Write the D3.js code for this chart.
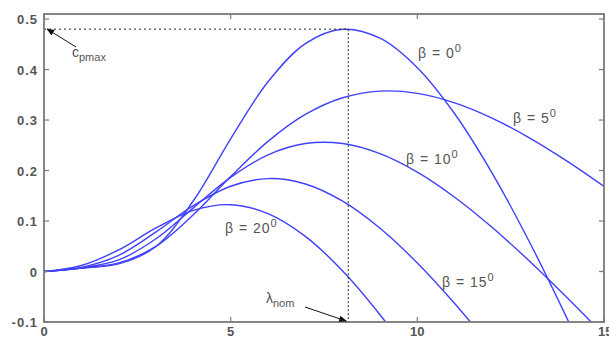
<!DOCTYPE html>
<html>
<head>
<meta charset="utf-8">
<script src="https://cdn.jsdelivr.net/npm/d3@7"></script>
<style>
  body { margin: 0; background: #fff; }
  text { font-family: "Liberation Sans", Arial, sans-serif; fill: #555; }
</style>
</head>
<body>
<svg width="609" height="338"></svg>
<script>
// tip speed ratio (x) en power coefficient per pitch hoek
var lambda = [0, 1, 2, 3, 4, 5, 6, 7, 8, 9, 10, 11, 12, 13, 14, 15];
var cpBeta0  = [0, 0.0068, 0.0151, 0.0495, 0.1401, 0.2629, 0.3757, 0.4513, 0.4797, 0.4620, 0.4037, 0.3125, 0.1954, 0.0590, -0.0913, -0.2512];
var cpBeta5  = [0, 0.0068, 0.0170, 0.0497, 0.1123, 0.1880, 0.2578, 0.3111, 0.3441, 0.3572, 0.3529, 0.3341, 0.3039, 0.2648, 0.2191, 0.1686];
var cpBeta10 = [0, 0.0070, 0.0229, 0.0648, 0.1261, 0.1864, 0.2310, 0.2534, 0.2534, 0.2334, 0.1967, 0.1470, 0.0875, 0.0208, -0.0510, -0.1259];
var cpBeta15 = [0, 0.0083, 0.0321, 0.0784, 0.1304, 0.1689, 0.1840, 0.1734, 0.1393, 0.0857, 0.0169, -0.0634, -0.1518];
var cpBeta20 = [0, 0.0119, 0.0427, 0.0862, 0.1211, 0.1323, 0.1147, 0.0696, 0.0011, -0.0856, -0.1861];
var xTicks = [0, 5, 10, 15];
var yTicks = [-0.1, 0, 0.1, 0.2, 0.3, 0.4, 0.5];
var cpMax = 0.48, lambdaNom = 8.15;

var svg = d3.select("svg"),
    pl = 44, pr = 604, pt = 14, pb = 322;

var x = d3.scaleLinear().domain([0, 15]).range([pl, pr]),
    y = d3.scaleLinear().domain([-0.1, 0.51]).range([pb, pt]);

var defs = svg.append("defs");
defs.append("clipPath").attr("id", "plot")
  .append("rect").attr("x", pl).attr("y", pt).attr("width", pr - pl).attr("height", pb - pt);

defs.append("marker").attr("id", "arrow")
    .attr("viewBox", "0 0 10 10").attr("refX", 9).attr("refY", 5)
    .attr("markerWidth", 8).attr("markerHeight", 8).attr("orient", "auto")
  .append("path").attr("d", "M0,1 L10,5 L0,9 z").attr("fill", "#111");

// curves
var series = [cpBeta0, cpBeta5, cpBeta10, cpBeta15, cpBeta20];
var line = d3.line()
    .x(function(d) { return x(d[0]); })
    .y(function(d) { return y(d[1]); })
    .curve(d3.curveCatmullRom.alpha(0.5));

svg.append("g").attr("clip-path", "url(#plot)")
  .selectAll("path")
  .data(series)
  .enter().append("path")
    .attr("d", function(s) { return line(s.map(function(v, i) { return [lambda[i], v]; })); })
    .attr("fill", "none")
    .attr("stroke", "#4040ff")
    .attr("stroke-width", 1.4);

// dotted lines naar cpmax en lambda nom
svg.append("line")
  .attr("x1", x(0)).attr("x2", x(lambdaNom))
  .attr("y1", y(cpMax)).attr("y2", y(cpMax))
  .attr("stroke", "#222").attr("stroke-width", 1).attr("stroke-dasharray", "2,3");
svg.append("line")
  .attr("x1", x(lambdaNom)).attr("x2", x(lambdaNom))
  .attr("y1", y(cpMax)).attr("y2", y(-0.1))
  .attr("stroke", "#222").attr("stroke-width", 1).attr("stroke-dasharray", "2,2");

// frame
svg.append("rect")
  .attr("x", pl).attr("y", pt).attr("width", pr - pl).attr("height", pb - pt)
  .attr("fill", "none").attr("stroke", "#7a7a7a").attr("stroke-width", 1.8);

// ticks naar binnen, alle vier kanten
var g = svg.append("g").attr("stroke", "#7a7a7a").attr("stroke-width", 1.2);
xTicks.forEach(function(t) {
  g.append("line").attr("x1", x(t)).attr("x2", x(t)).attr("y1", pb).attr("y2", pb - 5);
  g.append("line").attr("x1", x(t)).attr("x2", x(t)).attr("y1", pt).attr("y2", pt + 5);
});
yTicks.forEach(function(t) {
  g.append("line").attr("x1", pl).attr("x2", pl + 5).attr("y1", y(t)).attr("y2", y(t));
  g.append("line").attr("x1", pr).attr("x2", pr - 5).attr("y1", y(t)).attr("y2", y(t));
});

svg.selectAll(".xl").data(xTicks).enter().append("text")
  .attr("x", function(d) { return x(d); }).attr("y", 336)
  .attr("text-anchor", function(d) { return d === 15 ? "start" : "middle"; })
  .attr("dx", function(d) { return d === 15 ? -6 : 0; })
  .attr("font-size", 13).attr("font-weight", "bold")
  .text(function(d) { return d; });

svg.selectAll(".yl").data(yTicks).enter().append("text")
  .attr("x", 38).attr("y", function(d) { return y(d) + 5; })
  .attr("text-anchor", "end").attr("font-size", 13).attr("font-weight", "bold")
  .attr("letter-spacing", 1)
  .text(function(d) { return d; });

// labels bij de curves
var labels = [
  {t: "0", x: 418, y: 58},
  {t: "5", x: 513, y: 123},
  {t: "10", x: 406, y: 164},
  {t: "15", x: 442, y: 287},
  {t: "20", x: 225, y: 233}
];
labels.forEach(function(l) {
  var tx = svg.append("text").attr("x", l.x).attr("y", l.y).attr("font-size", 14).attr("letter-spacing", 1);
  tx.append("tspan").text("\u03b2 = " + l.t);
  tx.append("tspan").attr("dy", -6).attr("font-size", 11).text("0");
});

// c_pmax annotatie
var c = svg.append("text").attr("x", 72).attr("y", 57).attr("font-size", 14);
c.append("tspan").text("c");
c.append("tspan").attr("dy", 4).attr("font-size", 11).text("pmax");
svg.append("line").attr("x1", 76).attr("y1", 47).attr("x2", 47).attr("y2", 29)
  .attr("stroke", "#111").attr("stroke-width", 1).attr("marker-end", "url(#arrow)");

// lambda_nom annotatie
var ln = svg.append("text").attr("x", 266).attr("y", 303).attr("font-size", 14);
ln.append("tspan").text("\u03bb");
ln.append("tspan").attr("dy", 4).attr("font-size", 11).text("nom");
svg.append("line").attr("x1", 305).attr("y1", 307).attr("x2", x(lambdaNom) - 2).attr("y2", 321)
  .attr("stroke", "#111").attr("stroke-width", 1).attr("marker-end", "url(#arrow)");
</script>
</body>
</html>
